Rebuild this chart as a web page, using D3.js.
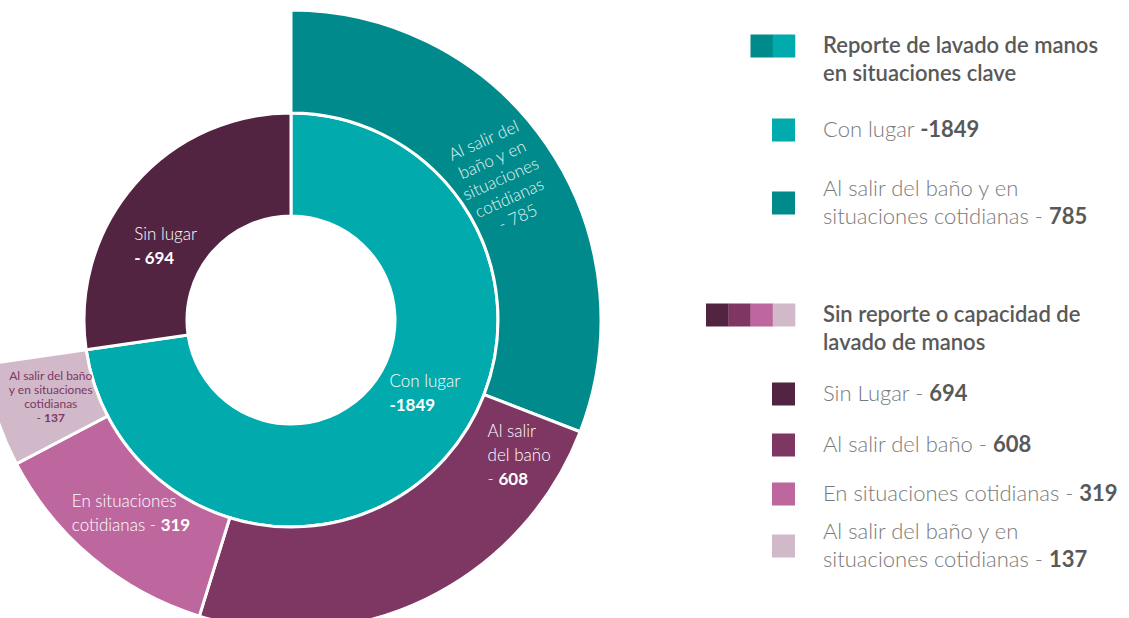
<!DOCTYPE html>
<html>
<head>
<meta charset="utf-8">
<script src="https://cdn.jsdelivr.net/npm/d3@7"></script>
<style>
  body { margin: 0; background: #ffffff; }
  svg { display: block; font-family: Lato, "Open Sans", "Noto Sans", sans-serif; }
</style>
</head>
<body>
<svg id="chart" width="1129" height="618"></svg>
<script>
// Inner ring: whether a hand-washing place was reported
const groupNames = ["Con lugar", "Sin lugar"];
const groupValues = [1849, 694];
const groupColors = ["#00AAAD", "#532442"];

// Outer ring: moments of hand washing, spread over the "Con lugar" sector
const momentNames = [
  "Al salir del baño y en situaciones cotidianas",
  "Al salir del baño",
  "En situaciones cotidianas",
  "Al salir del baño y en situaciones cotidianas"
];
const momentValues = [785, 608, 319, 137];
const momentColors = ["#008A8B", "#7E3663", "#BE679F", "#D1B9C9"];

// Label templates: "|" breaks a line, **...** is bold, {v} is the value
const groupLabelText = ["Con lugar|**-{v}**", "Sin lugar|**- {v}**"];
const momentLabelText = [
  "Al salir del|baño y en|situaciones|cotidianas|- {v}",
  "Al salir|del baño|- **{v}**",
  "En situaciones|cotidianas - **{v}**",
  "Al salir del baño|y en situaciones|cotidianas|- **{v}**"
];

// Legend texts
const legendHeaders = [
  "Reporte de lavado de manos|en situaciones clave",
  "Sin reporte o capacidad de|lavado de manos"
];
const legendItemText = [
  "Con lugar **-{v}**",
  "Al salir del baño y en|situaciones cotidianas - **{v}**",
  "Sin Lugar - **{v}**",
  "Al salir del baño - **{v}**",
  "En situaciones cotidianas - **{v}**",
  "Al salir del baño y en|situaciones cotidianas - **{v}**"
];

// ---------- layout ----------
const cx = 291, cy = 320;
const rHole = 104, rMid = 207, rOuter = 310;

const svg = d3.select("#chart");
const root = svg.append("g").attr("transform", `translate(${cx},${cy})`);

const groups = groupNames.map((name, i) => ({ name, value: groupValues[i], color: groupColors[i], label: groupLabelText[i] }));
const moments = momentNames.map((name, i) => ({ name, value: momentValues[i], color: momentColors[i], label: momentLabelText[i] }));

const innerPie = d3.pie().sort(null).value(d => d.value);
const innerArcs = innerPie(groups);
const conLugar = innerArcs[0];

const outerPie = d3.pie().sort(null).value(d => d.value)
  .startAngle(conLugar.startAngle).endAngle(conLugar.endAngle);
const outerArcs = outerPie(moments);

const innerArc = d3.arc().innerRadius(rHole).outerRadius(rMid);
const outerArc = d3.arc().innerRadius(rMid).outerRadius(rOuter);

root.append("g").selectAll("path").data(innerArcs).join("path")
  .attr("d", innerArc)
  .attr("fill", d => d.data.color)
  .attr("stroke", "#ffffff").attr("stroke-width", 3).attr("stroke-linejoin", "miter");

root.append("g").selectAll("path").data(outerArcs).join("path")
  .attr("d", outerArc)
  .attr("fill", d => d.data.color)
  .attr("stroke", "#ffffff").attr("stroke-width", 3).attr("stroke-linejoin", "miter");

// ---------- text helper ----------
function parseLine(line, value) {
  const s = line.replace("{v}", value);
  const parts = [];
  const re = /\*\*(.+?)\*\*/g;
  let last = 0, m;
  while ((m = re.exec(s)) !== null) {
    if (m.index > last) parts.push({ text: s.slice(last, m.index), bold: false });
    parts.push({ text: m[1], bold: true });
    last = re.lastIndex;
  }
  if (last < s.length) parts.push({ text: s.slice(last), bold: false });
  return parts;
}

function drawLines(g, template, value, opt) {
  const lines = template.split("|");
  const text = g.append("text")
    .attr("font-size", opt.size)
    .attr("fill", opt.color)
    .attr("text-anchor", opt.anchor || "start");
  lines.forEach((line, i) => {
    const t = text.append("tspan").attr("x", 0).attr("y", i * opt.lh);
    parseLine(line, value).forEach(p => {
      t.append("tspan")
        .text(p.text)
        .attr("font-weight", p.bold ? 700 : opt.weight)
        .attr("fill", p.bold ? (opt.boldColor || opt.color) : opt.color);
    });
  });
  return text;
}

// Place a label block so its box is centred at a polar point inside its sector
function placeLabel(arcDatum, template, value, place, style) {
  const a = arcDatum.startAngle + place.t * (arcDatum.endAngle - arcDatum.startAngle);
  const px = place.r * Math.sin(a), py = -place.r * Math.cos(a);
  const outer = root.append("g").attr("transform", `translate(${px},${py}) rotate(${place.rotate || 0})`);
  const inner = outer.append("g");
  drawLines(inner, template, value, style);
  const bb = inner.node().getBBox();
  inner.attr("transform", `translate(${-(bb.x + bb.width / 2)},${-(bb.y + bb.height / 2)})`);
}

const groupPlace = [{ t: 0.452, r: 152 }, { t: 0.397, r: 146 }];
const momentPlace = [
  { t: 0.503, r: 253, rotate: -24 },
  { t: 0.11, r: 265 },
  { t: 0.5, r: 250 },
  { t: 0.52, r: 252 }
];
const whiteLabel = { size: 17, lh: 24, color: "#ffffff", weight: 300 };

innerArcs.forEach((d, i) => placeLabel(d, d.data.label, d.data.value, groupPlace[i], whiteLabel));
outerArcs.forEach((d, i) => {
  let style = Object.assign({}, whiteLabel);
  if (i === 0) style = { size: 17, lh: 21, color: "#E6F4F4", weight: 300, anchor: "middle" };
  if (i === 3) style = { size: 12, lh: 14, color: "#7E3663", weight: 400, anchor: "middle" };
  placeLabel(d, d.data.label, d.data.value, momentPlace[i], style);
});

// ---------- legend ----------
const legend = svg.append("g");
const textX = 823, swatchRight = 795, sw = 23, sh = 23;
const legendStyle = { size: 22, lh: 28, color: "#7A7A7A", boldColor: "#595959", weight: 300 };
const headerStyle = { size: 22, lh: 28, color: "#595959", weight: 600 };

const headerRows = [
  { y: 46, colors: [momentColors[0], groupColors[0]] },
  { y: 315, colors: [groupColors[1], momentColors[1], momentColors[2], momentColors[3]] }
];
headerRows.forEach((h, k) => {
  const n = h.colors.length;
  const w = 22.25;
  legend.append("g").selectAll("rect").data(h.colors).join("rect")
    .attr("x", (c, j) => swatchRight - (n - j) * w)
    .attr("y", h.y - sh / 2)
    .attr("width", w + 0.3).attr("height", sh)
    .attr("fill", c => c);
  const g = legend.append("g").attr("transform", `translate(${textX},${h.y + 7})`);
  drawLines(g, legendHeaders[k], "", headerStyle);
});

const legendItems = [
  { value: groupValues[0], color: groupColors[0], y: 130 },
  { value: momentValues[0], color: momentColors[0], y: 203 },
  { value: groupValues[1], color: groupColors[1], y: 394 },
  { value: momentValues[1], color: momentColors[1], y: 445 },
  { value: momentValues[2], color: momentColors[2], y: 494 },
  { value: momentValues[3], color: momentColors[3], y: 546 }
];
legendItems.forEach((it, i) => {
  legend.append("rect")
    .attr("x", swatchRight - sw).attr("y", it.y - sh / 2)
    .attr("width", sw).attr("height", sh)
    .attr("fill", it.color);
  const nLines = legendItemText[i].split("|").length;
  const y0 = it.y + 7 - (nLines - 1) * legendStyle.lh / 2;
  const g = legend.append("g").attr("transform", `translate(${textX},${y0})`);
  drawLines(g, legendItemText[i], it.value, legendStyle);
});
</script>
</body>
</html>
